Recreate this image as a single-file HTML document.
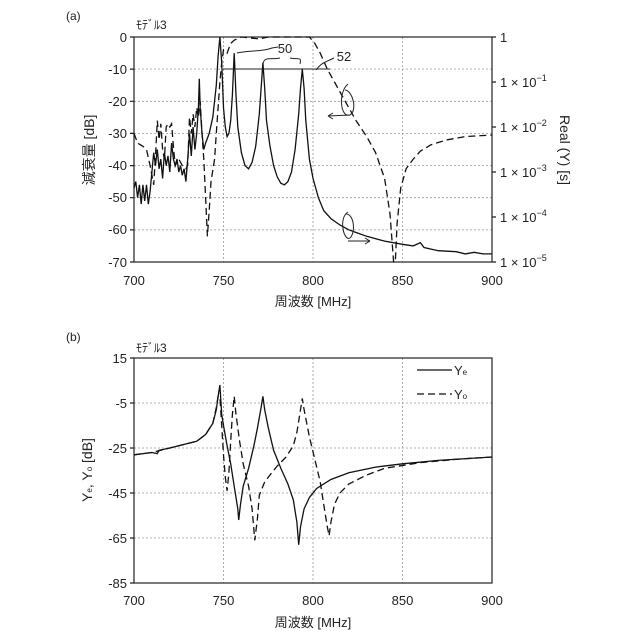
<!DOCTYPE html>
<html><head><meta charset="utf-8"><style>
body{margin:0;background:#fff}
svg{display:block}
text{font-family:"Liberation Sans","Noto Sans CJK JP",sans-serif;fill:#222}
</style></head><body>
<svg id="s" width="640" height="640" viewBox="0 0 640 640" xmlns="http://www.w3.org/2000/svg">
<g stroke="#999" stroke-width="0.8" stroke-dasharray="2,2" fill="none">
<path d="M223.5 37V262M313 37V262M402.5 37V262M134 69.1H492M134 101.3H492M134 133.4H492M134 165.6H492M134 197.7H492M134 229.9H492"/>
<path d="M223.5 358V583M313 358V583M402.5 358V583M134 403H492M134 448H492M134 493H492M134 538H492"/>
</g>
<g stroke="#222" stroke-width="1.2" fill="none">
<rect x="134" y="37" width="358" height="225"/>
<rect x="134" y="358" width="358" height="225"/>
<path d="M130 37h4M130 69.1h4M130 101.3h4M130 133.4h4M130 165.6h4M130 197.7h4M130 229.9h4M130 262h4"/>
<path d="M492 37h4M492 82h4M492 127h4M492 172h4M492 217h4M492 262h4"/>
<path d="M130 358h4M130 403h4M130 448h4M130 493h4M130 538h4M130 583h4"/>
</g>
<g id="curves" fill="none" stroke="#111" stroke-width="1.3"></g>
<g stroke="#222" stroke-width="1" fill="none">
<path d="M223 69H330"/>
<path d="M237 53 C250 50,262 52,272 48 L278 47"/>
<path d="M263 64 C264 56,272 60,280 58 M290 58 C298 60,302 56,300 64"/>
<path d="M316 70 C322 62,326 62,334 58"/>
<path d="M348 84 C338 92,340 118,350 115 C358 110,352 90,345 90 M350 115 L328 116 M328 116 l5 -3 M328 116 l5 3"/>
<path d="M348 212 C338 218,344 242,350 238 C356 232,354 214,346 214 M348 241 L370 241 M370 241 l-5 -3 M370 241 l-5 3"/>
</g>
<g font-size="13" text-anchor="end">
<text x="127" y="42">0</text><text x="127" y="74">-10</text><text x="127" y="106">-20</text><text x="127" y="138">-30</text><text x="127" y="170">-40</text><text x="127" y="202">-50</text><text x="127" y="234">-60</text><text x="127" y="267">-70</text>
<text x="127" y="363">15</text><text x="127" y="408">-5</text><text x="127" y="453">-25</text><text x="127" y="498">-45</text><text x="127" y="543">-65</text><text x="127" y="588">-85</text>
</g>
<g font-size="13" text-anchor="middle">
<text x="134" y="285">700</text><text x="223.5" y="285">750</text><text x="313" y="285">800</text><text x="402.5" y="285">850</text><text x="492" y="285">900</text>
<text x="134" y="605">700</text><text x="223.5" y="605">750</text><text x="313" y="605">800</text><text x="402.5" y="605">850</text><text x="492" y="605">900</text>
<text x="313" y="306">周波数 [MHz]</text><text x="313" y="627">周波数 [MHz]</text>
<text x="285" y="53">50</text><text x="344" y="61">52</text>
</g>
<g font-size="13">
<text x="500" y="42">1</text>
<text x="500" y="87">1 × 10<tspan font-size="9" dy="-6">−1</tspan></text>
<text x="500" y="132">1 × 10<tspan font-size="9" dy="-6">−2</tspan></text>
<text x="500" y="177">1 × 10<tspan font-size="9" dy="-6">−3</tspan></text>
<text x="500" y="222">1 × 10<tspan font-size="9" dy="-6">−4</tspan></text>
<text x="500" y="267">1 × 10<tspan font-size="9" dy="-6">−5</tspan></text>
<text x="66" y="20" font-size="12">(a)</text><text x="66" y="341" font-size="12">(b)</text>
<text x="136" y="29" font-size="12">ﾓﾃﾞﾙ3</text><text x="136" y="352" font-size="12">ﾓﾃﾞﾙ3</text>
</g>
<text transform="translate(94,150) rotate(-90)" font-size="14" text-anchor="middle">減衰量 [dB]</text>
<text transform="translate(560,150) rotate(90)" font-size="14" text-anchor="middle">Real (Y) [s]</text>
<text transform="translate(92,470) rotate(-90)" font-size="14" text-anchor="middle">Y<tspan font-size="8">e</tspan>, Y<tspan font-size="8">o</tspan> [dB]</text>
<g stroke="#111" stroke-width="1.3">
<path d="M417 370H452"/><path d="M417 394H452" stroke-dasharray="7,4"/>
</g>
<text x="454" y="375" font-size="13">Y<tspan font-size="8">e</tspan></text>
<text x="454" y="399" font-size="13">Y<tspan font-size="8">o</tspan></text>
</svg>
<script>
var g=document.getElementById('curves');
function X(f){return 134+(f-700)*1.79}
function Ya(d){return 37-d*3.214}
function Yb(v){return 358+(15-v)*2.25}
function add(pts,Y,dash){var d='';pts.forEach(function(p,i){d+=(i?'L':'M')+X(p[0]).toFixed(1)+' '+Y(p[1]).toFixed(1)});
var e=document.createElementNS('http://www.w3.org/2000/svg','path');e.setAttribute('d',d);if(dash)e.setAttribute('stroke-dasharray','7,4');g.appendChild(e)}
var a1=[[700,-47],[701,-45],[702,-50],[703,-46],[704,-52],[705,-46],[706,-51],[707,-46],[708,-52],[709,-48],[710,-42],[711,-36],[712,-40],[713,-35],[714,-41],[715,-38],[716,-44],[717,-36],[718,-40],[719,-37],[720,-42],[721,-33],[722,-38],[723,-40],[724,-38],[725,-42],[726,-40],[727,-43],[728,-41],[729,-45],[730,-38],[731,-30],[732,-37],[733,-28],[734,-35],[735,-30],[736,-22],[736.5,-13],[737,-22],[738,-30],[739,-35],[740,-33],[742,-30],[744,-25],[746,-15],[747,-6],[748,0],[749,-8],[750,-22],[751,-28],[752,-31],[753,-30],[754,-26],[755,-18],[756,-5],[757,-18],[758,-28],[760,-36],[762,-40],[764,-41],[766,-39],[768,-34],[770,-24],[771,-16],[772,-8],[773,-16],[774,-26],[776,-34],[778,-40],[780,-43.5],[782,-45.5],[784,-46],[786,-45],[788,-42],[790,-35],[792,-24],[793,-16],[794,-10],[795,-16],[796,-26],[798,-38],[800,-44],[803,-50],[806,-54],[810,-56.5],[815,-58.5],[820,-60],[825,-61],[830,-62],[840,-63.5],[850,-64.5],[856,-65],[860,-64],[862,-65.5],[866,-66],[870,-66.5],[880,-66.8],[885,-67.5],[890,-67],[895,-67.5],[900,-67.5]];
var a2=[[700,-30],[702,-33],[705,-34],[707,-35],[709,-40],[711,-46],[712,-37],[713,-26],[714,-32],[715,-27],[716,-35],[717,-38],[718,-28],[719,-27],[720,-28],[721,-27],[722,-34],[723,-40],[725,-38],[727,-40],[729,-41],[730,-40],[731,-25],[732,-30],[733,-24],[734,-28],[735,-22],[736,-25],[737,-20],[738,-30],[739,-38],[740,-50],[741,-62],[742,-54],[743,-45],[745,-38],[746,-30],[747,-22],[748,-14],[749,-8],[750,-4],[752,-5],[754,-2],[756,-1],[758,-0.5],[760,0],[765,-0.3],[770,-0.6],[775,0],[798,0],[801,-2],[804,-5],[808,-10],[812,-14],[818,-20],[824,-26],[830,-31],[835,-36],[840,-44],[843,-55],[845,-70],[846,-70],[847,-58],[849,-47],[852,-41],[856,-38],[860,-35.5],[866,-33.5],[875,-32],[885,-31],[900,-30.5]];
add(a1,Ya,false);add(a2,Ya,true);
var b1=[[700,-28],[710,-27],[713,-27.5],[714,-26],[720,-25],[730,-23],[735,-22],[740,-19],[744,-14],[746,-8],[747,-2],[748,3],[749,-10],[750,-15],[752,-24],[754,-32],[756,-42],[758,-52],[758.5,-57],[759.5,-50],[761,-42],[764,-34],[767,-24],[769,-16],[771,-7],[772,-2],[773,-8],[775,-16],[778,-26],[782,-34],[786,-41],[789,-48],[791,-58],[792,-68],[793,-60],[795,-52],[798,-47],[802,-43],[810,-39],[820,-36],[835,-33.5],[850,-32],[870,-30.5],[900,-29]];
var b2=[[700,-28],[710,-27],[720,-25],[730,-23],[735,-22],[740,-19],[744,-14],[746,-7],[747,-2],[748,-2],[749,-15],[750,-28],[751,-38],[752,-44],[753,-36],[754,-22],[755,-10],[756,-2],[757,-10],[759,-22],[761,-32],[764,-42],[766,-52],[767.5,-66],[769,-56],[770,-46],[773,-40],[776,-37],[780,-33],[785,-29],[789,-24],[791,-18],[793,-8],[794,-3],[795,-8],[798,-20],[801,-30],[804,-40],[806,-50],[808,-60],[809,-64],[810,-58],[812,-50],[815,-45],[820,-41],[830,-37],[840,-34],[860,-31.5],[880,-30],[900,-29]];
add(b1,Yb,false);add(b2,Yb,true);
</script>
</body></html>
